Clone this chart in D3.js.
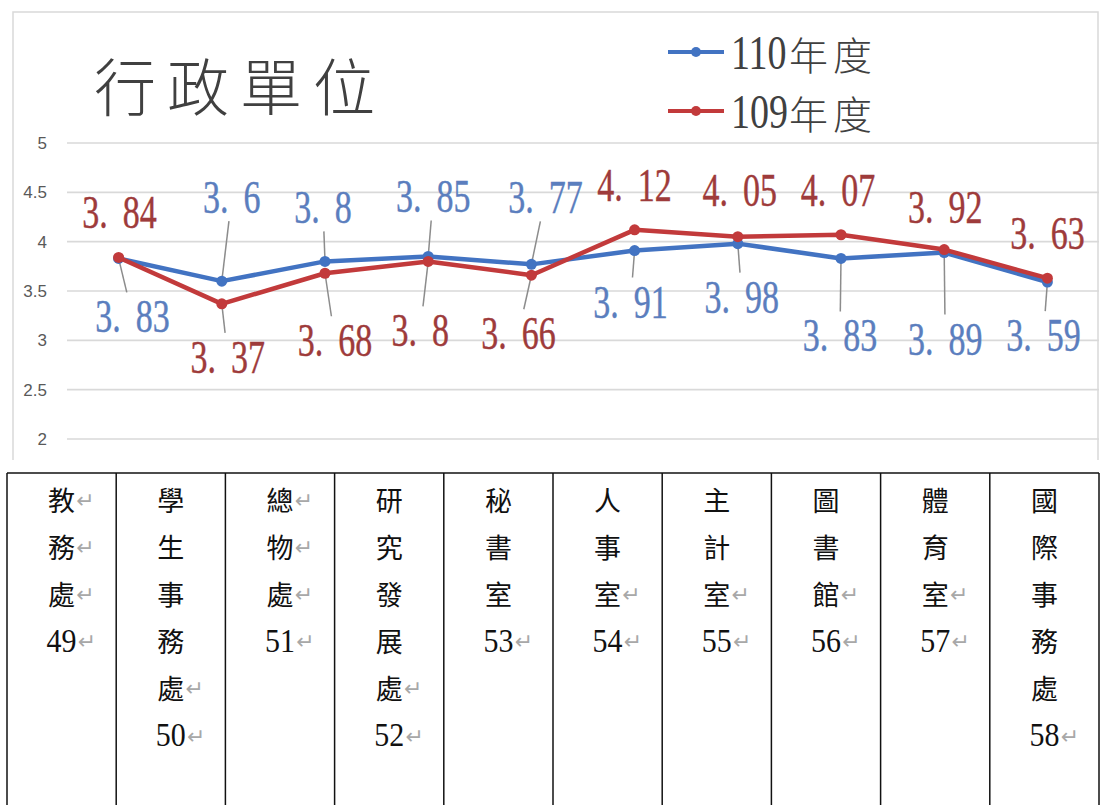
<!DOCTYPE html>
<html><head><meta charset="utf-8">
<script src="https://cdn.jsdelivr.net/npm/d3@7/dist/d3.min.js"></script>
<style>
html,body{margin:0;padding:0;background:#fff;}
svg{display:block;}
</style></head>
<body>
<svg id="chart" width="1104" height="805"></svg>
<script>
// ---------- data ----------
const categories = ["教務處","學生事務處","總物處","研究發展處","秘書室","人事室","主計室","圖書館","體育室","國際事務處"];
const categoryNos = ["49","50","51","52","53","54","55","56","57","58"];
const seriesNames = ["110年度","109年度"];
const values110 = [3.83,3.6,3.8,3.85,3.77,3.91,3.98,3.83,3.89,3.59];
const values109 = [3.84,3.37,3.68,3.8,3.66,4.12,4.05,4.07,3.92,3.63];
const yTicks = [2,2.5,3,3.5,4,4.5,5];
const chartTitle = "行政單位";

// ---------- layout (not data) ----------
const W = 1104, H = 805;
const plot = {left: 67, right: 1099, top: 143, bottom: 439};
const blue = "#4273C2", red = "#C23A3B";
const blueLabel = "#5B7EBE", redLabel = "#9E3B3B";
// label offsets from the point (px): [dx, dy, leader?]
const labelOff110 = [[14,58,1],[10,-84,1],[-2,-54,1],[5,-60,1],[14,-67,1],[-4,51,1],[4,53,1],[-1,77,1],[1,86,1],[-4,53,1]];
const labelOff109 = [[1,-45,0],[6,53,1],[10,67,1],[-8,69,1],[-13,58,1],[0,-45,0],[2,-47,0],[-3,-45,0],[1,-43,0],[0,-45,0]];
// which table lines carry the paragraph mark
const markMode = ["all","last","all","last","none","last","last","last","last","none"];

const svg = d3.select("#chart");

// chart frame
svg.append("path")
  .attr("d", `M13,460 L13,12 L1098,12 L1098,460`)
  .attr("fill","none").attr("stroke","#d9d9d9").attr("stroke-width",1.5);

// scales
const x = d3.scaleBand().domain(categories).range([plot.left, plot.right]);
const y = d3.scaleLinear().domain([2,5]).range([plot.bottom, plot.top]);
const cx = c => x(c) + x.bandwidth()/2;

// gridlines
svg.append("g").selectAll("line").data(yTicks).join("line")
  .attr("x1", plot.left).attr("x2", plot.right)
  .attr("y1", d => y(d)).attr("y2", d => y(d))
  .attr("stroke","#d9d9d9").attr("stroke-width",1.6);

// y axis
const yAxis = d3.axisLeft(y).tickValues(yTicks).tickSize(0).tickPadding(0).tickFormat(d3.format("~g"));
const yg = svg.append("g").attr("transform","translate(47,0)").call(yAxis);
yg.select(".domain").remove();
yg.selectAll("text").attr("font-family","'Liberation Sans', Arial, sans-serif")
  .attr("font-size",17).attr("fill","#595959");

// title
svg.append("text").attr("x",94).attr("y",84)
  .attr("dominant-baseline","central")
  .attr("font-family","'Noto Sans CJK TC', sans-serif").attr("font-weight",300)
  .attr("font-size",62).attr("letter-spacing",11).attr("fill","#404040")
  .text(chartTitle);

// legend
const legend = [[seriesNames[0], blue, 52],[seriesNames[1], red, 111]];
legend.forEach(([name, col, ly]) => {
  const g = svg.append("g");
  g.append("line").attr("x1",668).attr("x2",724).attr("y1",ly).attr("y2",ly)
    .attr("stroke",col).attr("stroke-width",4);
  g.append("circle").attr("cx",696).attr("cy",ly).attr("r",5).attr("fill",col);
  const num = name.replace(/[^0-9]/g,"");
  const cjk = name.replace(/[0-9]/g,"");
  g.append("text").attr("transform",`translate(731,${ly+17}) scale(1,1.3)`)
    .attr("font-family","'Liberation Serif', serif").attr("font-size",38).attr("fill","#404040")
    .text(num);
  g.append("text").attr("x",789).attr("y",ly+1).attr("dominant-baseline","central")
    .attr("font-family","'Noto Sans CJK TC', sans-serif").attr("font-weight",300)
    .attr("font-size",39).attr("letter-spacing",5).attr("fill","#404040")
    .text(cjk);
});

// series
const series = [
  {vals: values110, color: blue, lab: blueLabel, off: labelOff110},
  {vals: values109, color: red, lab: redLabel, off: labelOff109}
];
const line = d3.line().x((d,i) => cx(categories[i])).y(d => y(d));

// leader lines first (under lines)
const leaderG = svg.append("g");
series.forEach(s => {
  s.vals.forEach((v,i) => {
    const [dx,dy,lead] = s.off[i];
    if (!lead) return;
    const px = cx(categories[i]), py = y(v);
    const stop = 24; // stop short of label
    const t = (Math.abs(dy) - stop) / Math.abs(dy);
    leaderG.append("line").attr("x1",px).attr("y1",py)
      .attr("x2",px + dx*t).attr("y2",py + dy*t)
      .attr("stroke","#8c8c8c").attr("stroke-width",1.5);
  });
});

series.forEach(s => {
  svg.append("path").datum(s.vals).attr("d",line)
    .attr("fill","none").attr("stroke",s.color).attr("stroke-width",4.5)
    .attr("stroke-linejoin","round");
  svg.append("g").selectAll("circle").data(s.vals).join("circle")
    .attr("cx",(d,i) => cx(categories[i])).attr("cy",d => y(d)).attr("r",5.5)
    .attr("fill",s.color);
});

// data labels
series.forEach(s => {
  s.vals.forEach((v,i) => {
    const [dx,dy] = s.off[i];
    const lx = cx(categories[i]) + dx, ly = y(v) + dy;
    const str = String(v);
    const [ip, dp] = str.split(".");
    const t = svg.append("text")
      .attr("transform",`translate(${lx},${ly+16}) scale(1,1.38)`)
      .attr("text-anchor","middle")
      .attr("font-family","'Liberation Serif', serif").attr("font-size",34)
      .attr("fill",s.lab).attr("stroke",s.lab).attr("stroke-width",0.3);
    t.append("tspan").text(ip + ".");
    t.append("tspan").attr("dx",15).text(dp);
  });
});

// ---------- table ----------
const table = {left: 7, right: 1099, top: 473};
const tx = d3.scaleBand().domain(categories).range([table.left, table.right]);
const tg = svg.append("g");
tg.append("line").attr("x1",table.left).attr("x2",table.right).attr("y1",table.top).attr("y2",table.top)
  .attr("stroke","#111").attr("stroke-width",1.5);
const edges = categories.map(c => tx(c)).concat([table.right]);
tg.selectAll("line.v").data(edges).join("line").attr("class","v")
  .attr("x1",d=>d).attr("x2",d=>d).attr("y1",table.top).attr("y2",H)
  .attr("stroke","#111").attr("stroke-width",1.5);

const rowY = d3.scaleLinear().domain([0,1]).range([499, 546.2]);
categories.forEach((c,i) => {
  const ccx = tx(c) + tx.bandwidth()/2;
  const chars = Array.from(c);
  const lines = chars.map((ch,k) => ({t: ch, cjk: true,
      mark: markMode[i]==="all" || (markMode[i]==="last" && k===chars.length-1)}));
  lines.push({t: categoryNos[i], cjk: false, mark: true});
  lines.forEach((ln,k) => {
    const yy = rowY(k);
    let w;
    if (ln.cjk) {
      tg.append("text").attr("x",ccx).attr("y",yy).attr("text-anchor","middle")
        .attr("dominant-baseline","central")
        .attr("font-family","'Noto Sans CJK TC', sans-serif").attr("font-size",27)
        .attr("fill","#111").text(ln.t);
      w = 27;
    } else {
      tg.append("text").attr("transform",`translate(${ccx},${yy+11}) scale(1,1.15)`)
        .attr("text-anchor","middle")
        .attr("font-family","'Liberation Serif', serif").attr("font-size",30)
        .attr("fill","#111").text(ln.t);
      w = 30;
    }
    if (ln.mark) {
      tg.append("text").attr("x",ccx + w/2 + 1).attr("y",yy + 1)
        .attr("dominant-baseline","central")
        .attr("font-family","'DejaVu Sans', sans-serif").attr("font-size",22)
        .attr("fill","#a8a8a8").text("↵");
    }
  });
});
</script>
</body></html>
